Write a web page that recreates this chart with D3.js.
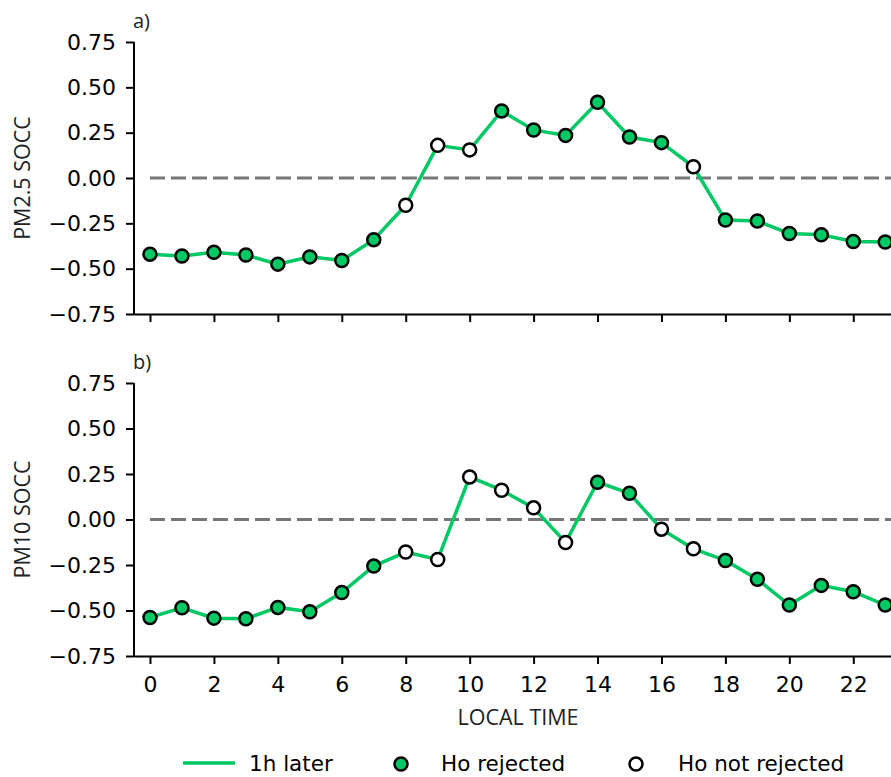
<!DOCTYPE html>
<html>
<head>
<meta charset="utf-8">
<script src="https://cdn.jsdelivr.net/npm/d3@7"></script>
<style>
    body { margin: 0; background: #fff; }
    .tick text { font-family: "DejaVu Sans", sans-serif; }
</style>
</head>
<body>
<div id="chart"></div>
<script>
// hours of the day
var hours = d3.range(0, 24);

// PM2.5 SOCC (1h later) and whether Ho was rejected
var pm25Values = [-0.42, -0.43, -0.41, -0.425, -0.475, -0.435, -0.455, -0.34, -0.15, 0.18,
    0.155, 0.37, 0.265, 0.235, 0.418, 0.226, 0.195, 0.062, -0.232, -0.237,
    -0.306, -0.313, -0.35, -0.353];
var pm25Rejected = [1, 1, 1, 1, 1, 1, 1, 1, 0, 0,
    0, 1, 1, 1, 1, 1, 1, 0, 1, 1,
    1, 1, 1, 1];

// PM10 SOCC (1h later)
var pm10Values = [-0.538, -0.485, -0.542, -0.545, -0.483, -0.507, -0.401, -0.256, -0.179, -0.22,
    0.234, 0.161, 0.064, -0.126, 0.205, 0.144, -0.053, -0.161, -0.225, -0.328,
    -0.47, -0.362, -0.397, -0.47];
var pm10Rejected = [1, 1, 1, 1, 1, 1, 1, 1, 0, 0,
    0, 0, 0, 0, 1, 1, 0, 0, 1, 1,
    1, 1, 1, 1];

var yTicks = [-0.75, -0.5, -0.25, 0, 0.25, 0.5, 0.75];
var xTicks = [0, 2, 4, 6, 8, 10, 12, 14, 16, 18, 20, 22];

var green = "#00c864";
var labelFont = "'Open Sans', sans-serif";

var width = 891, height = 777;

var svg = d3.select("#chart")
    .append("svg")
    .attr("width", width)
    .attr("height", height);

// shared x scale
var x = d3.scaleLinear()
    .domain([-0.5, 23.18])
    .range([134, 891]);

/**
 * draw one panel
 */
function renderPanel(values, rejected, top, bottom, letter, ylabel, showXLabels) {

    var y = d3.scaleLinear()
        .domain([-0.75, 0.75])
        .range([bottom, top]);

    var g = svg.append("g");

    // y axis
    var yAxis = g.append("g")
        .attr("transform", "translate(" + x.range()[0] + ",0)")
        .call(d3.axisLeft(y).tickValues(yTicks).tickSize(8).tickSizeOuter(0).tickPadding(10)
            .tickFormat(function (d) { return d3.format(".2f")(d).replace("-", "\u2212"); }));

    // x axis
    var xAxis = g.append("g")
        .attr("transform", "translate(0," + bottom + ")")
        .call(d3.axisBottom(x).tickValues(xTicks).tickSize(8).tickSizeOuter(0).tickPadding(12)
            .tickFormat(function (d) { return showXLabels ? d : ""; }));

    [yAxis, xAxis].forEach(function (a) {
        a.selectAll("path").attr("stroke", "#000").attr("stroke-width", 2);
        a.selectAll("line").attr("stroke", "#000").attr("stroke-width", 2);
        a.selectAll("text").attr("font-size", 22).attr("fill", "#000");
    });

    // extend y spine to the x axis
    yAxis.select("path").attr("d", "M0," + (bottom + 1) + "V" + top);

    // zero line
    g.append("line")
        .attr("x1", x(0))
        .attr("x2", x.range()[1])
        .attr("y1", y(0))
        .attr("y2", y(0))
        .attr("stroke", "#777")
        .attr("stroke-width", 3)
        .attr("stroke-dasharray", "15,6");

    // the line
    var line = d3.line()
        .x(function (d, i) { return x(hours[i]); })
        .y(function (d) { return y(d); });

    g.append("path")
        .datum(values)
        .attr("fill", "none")
        .attr("stroke", green)
        .attr("stroke-width", 3.5)
        .attr("d", line);

    // markers
    g.selectAll("circle")
        .data(values)
        .enter().append("circle")
        .attr("cx", function (d, i) { return x(hours[i]); })
        .attr("cy", function (d) { return y(d); })
        .attr("r", 6.5)
        .attr("fill", function (d, i) { return rejected[i] ? green : "#fff"; })
        .attr("stroke", "#000")
        .attr("stroke-width", 2.5);

    // panel letter
    g.append("text")
        .attr("x", 133)
        .attr("y", top - 14)
        .attr("font-family", labelFont)
        .attr("font-size", 20)
        .attr("fill", "#222")
        .text(letter);

    // y label
    g.append("text")
        .attr("transform", "rotate(-90)")
        .attr("x", -(top + bottom) / 2)
        .attr("y", 30)
        .attr("text-anchor", "middle")
        .attr("font-family", labelFont)
        .attr("font-size", 21.5)
        .attr("fill", "#222")
        .text(ylabel);
}

renderPanel(pm25Values, pm25Rejected, 42, 314, "a)", "PM2.5 SOCC", false);
renderPanel(pm10Values, pm10Rejected, 383, 656, "b)", "PM10 SOCC", true);

// x axis title
svg.append("text")
    .attr("x", 518)
    .attr("y", 725)
    .attr("text-anchor", "middle")
    .attr("font-family", labelFont)
    .attr("font-size", 21.5)
    .attr("fill", "#222")
    .text("LOCAL TIME");

//draw legends:
var legendY = 763;
svg.append("line")
    .attr("x1", 183).attr("x2", 235)
    .attr("y1", legendY).attr("y2", legendY)
    .attr("stroke", green)
    .attr("stroke-width", 3.5);

svg.append("circle")
    .attr("cx", 401).attr("cy", legendY + 1).attr("r", 6.5)
    .attr("fill", green).attr("stroke", "#000").attr("stroke-width", 2.5);

svg.append("circle")
    .attr("cx", 636).attr("cy", legendY + 1).attr("r", 6.5)
    .attr("fill", "#fff").attr("stroke", "#000").attr("stroke-width", 2.5);

var legendText = [{x: 249, t: "1h later"}, {x: 441, t: "Ho rejected"}, {x: 678, t: "Ho not rejected"}];
svg.selectAll(".legend")
    .data(legendText)
    .enter().append("text")
    .attr("class", "legend")
    .attr("x", function (d) { return d.x; })
    .attr("y", legendY + 8)
    .attr("font-family", "'DejaVu Sans', sans-serif")
    .attr("font-size", 21.5)
    .text(function (d) { return d.t; });
</script>
</body>
</html>
